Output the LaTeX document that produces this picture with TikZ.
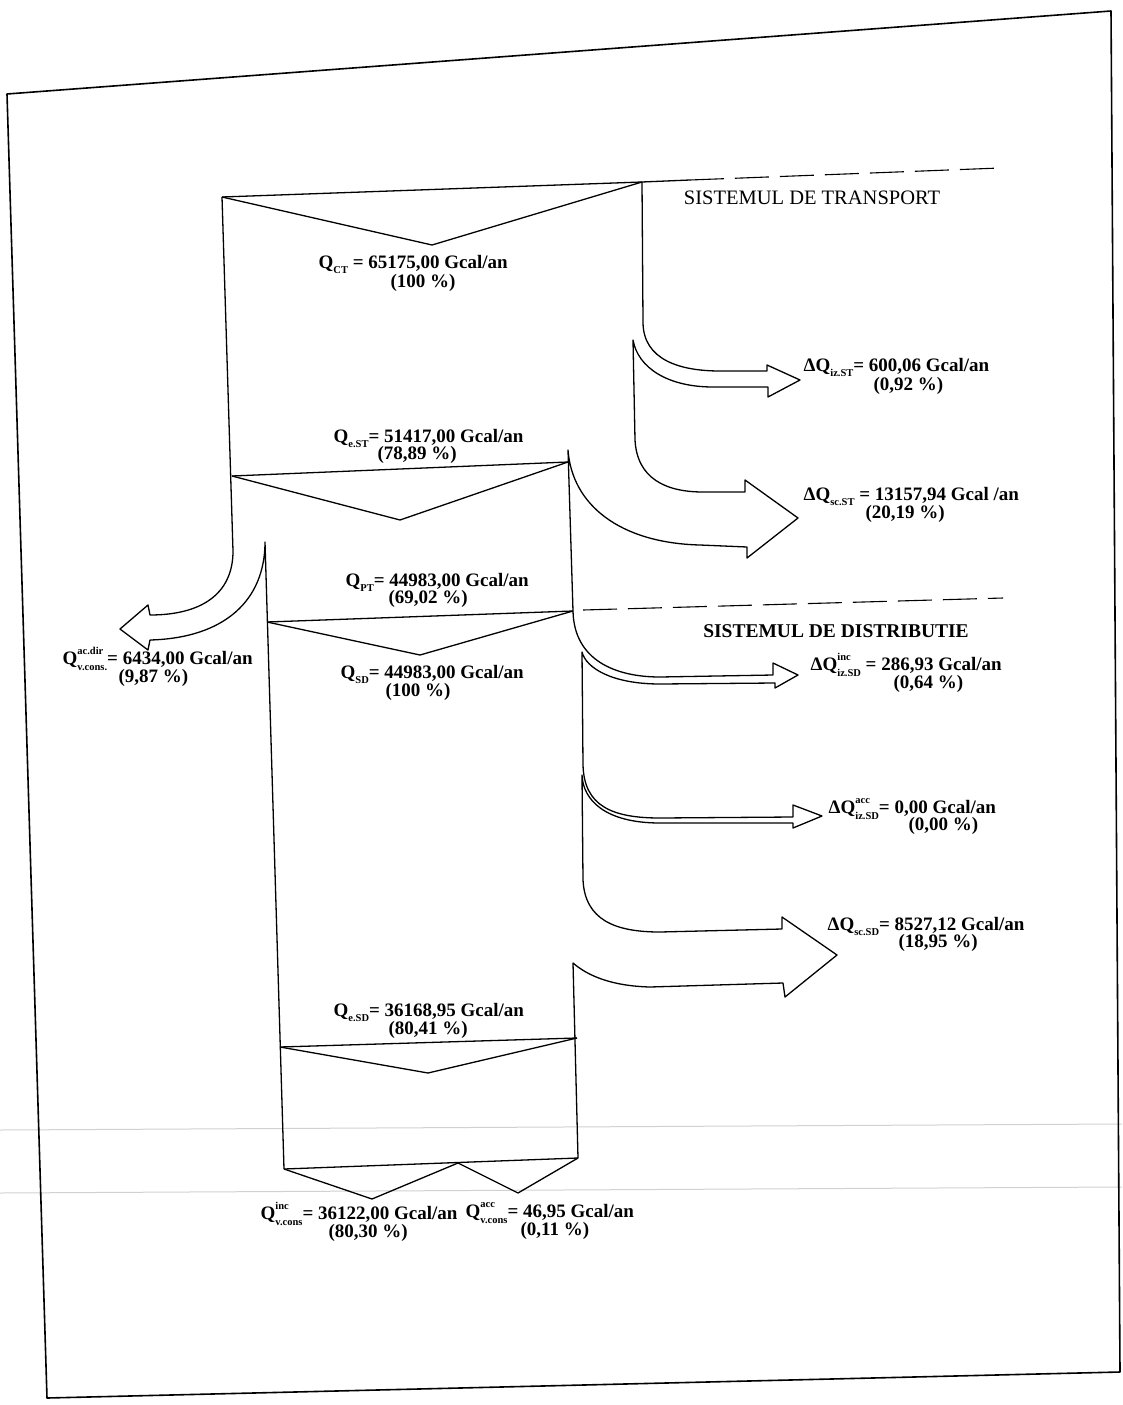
\documentclass[tikz,border=0pt]{standalone}
\usepackage{fontspec}
\setmainfont{Liberation Serif}
\newcommand\sm{\fontsize{10.5}{10.5}\selectfont}
\newcommand\sbx[1]{\raisebox{-5pt}{\sm #1}}
\newcommand\spsb[2]{\rlap{\raisebox{10pt}{\sm #1}}\raisebox{-6pt}{\sm #2}}
\begin{document}
\begin{tikzpicture}[x=1pt,y=-1pt,line width=1.3pt,line join=round,
  lbl/.style={inner sep=0pt,anchor=base west,font=\fontsize{19}{19}\selectfont\bfseries},
  ttl/.style={inner sep=0pt,anchor=base,font=\fontsize{19.5}{19.5}\selectfont\bfseries},
  sep/.style={line width=1.1pt,dash pattern=on 34pt off 11pt},
  scan/.style={line width=1pt,black!18}]
\useasboundingbox (0,0) rectangle (1122,1405);
\fill[white] (0,0) rectangle (1122,1405);
% scan artefacts
\draw[scan] (0,1130) -- (1122,1124);
\draw[scan] (0,1193) -- (1122,1187);
% page frame
\draw[line width=1.6pt] (7,94) -- (1111,11) -- (1120,1372) -- (47,1398) -- cycle;

% ---- transport system ----
\draw (222,197) -- (642,182) -- (690,180);
\draw[sep] (690,180) -- (1000,168);
\draw (222,197) -- (432,245) -- (642,182);
% left wall and left arrow
\draw (222,197) -- (233,551) .. controls (233,595) and (200,615) .. (150,615)
  -- (148,605) -- (120,629) -- (148,650) -- (150,640)
  .. controls (225,638) and (265,600) .. (265,542) -- (284,1169);
% right wall, arrows 1 and 2
\draw (642,182) -- (643,322) .. controls (643,360) and (680,371) .. (720,371)
  -- (767,371) -- (767,365) -- (800,380) -- (768,397) -- (768,387) -- (713,387)
  .. controls (668,387) and (638,368) .. (633,340) -- (635,440)
  .. controls (637,478) and (665,492) .. (703,492) -- (745,492) -- (745,480)
  -- (798,518) -- (747,558) -- (747,547) -- (700,545)
  .. controls (620,543) and (572,505) .. (568,450) -- (573,611);
\draw (232,476) -- (568,462);
\draw (232,476) -- (400,520) -- (568,462);

% ---- distribution system ----
\draw (267,622) -- (573,611);
\draw[sep] (583,610) -- (1003,598);
\draw (267,622) -- (420,655) -- (573,611);
% right wall, arrows 3, 4, 5
\draw (573,611) .. controls (574,660) and (615,677) .. (660,677) -- (773,675)
  -- (773,663) -- (798,675) -- (775,688) -- (775,683) -- (660,684)
  .. controls (612,684) and (586,668) .. (582,652) -- (583,765)
  .. controls (584,806) and (612,818) .. (660,818) -- (793,817) -- (793,805)
  -- (822,816) -- (793,828) -- (793,823) -- (660,823)
  .. controls (605,823) and (583,800) .. (582,775) -- (583,880)
  .. controls (585,920) and (615,932) .. (660,932) -- (782,929) -- (782,917)
  -- (837,955) -- (785,997) -- (783,983) -- (650,987)
  .. controls (612,986) and (588,976) .. (573,963) -- (578,1158);
\draw (280,1047) -- (577,1038);
\draw (280,1047) -- (428,1073) -- (577,1038);
\draw (284,1169) -- (578,1158);
\draw (284,1169) -- (372,1199) -- (458,1163) -- (518,1193) -- (578,1158);

% ---- titles ----
\node[ttl,font=\fontsize{20.5}{20.5}\selectfont] (tst) at (812,204) {SISTEMUL DE TRANSPORT};
\node[ttl] (tsd) at (836,637) {SISTEMUL DE DISTRIBUTIE};

% ---- labels ----
\node[lbl] (qct) at (318,268) {Q\sbx{CT} = 65175,00 Gcal/an};
\node[lbl] (qctp) at (390,287) {(100 \%)};
\node[lbl] (d1) at (803,371) {ΔQ\sbx{iz.ST}= 600,06 Gcal/an};
\node[lbl] (d1p) at (873,390) {(0,92 \%)};
\node[lbl] (qest) at (333,442) {Q\sbx{e.ST}= 51417,00 Gcal/an};
\node[lbl] (qestp) at (377,459) {(78,89 \%)};
\node[lbl] (d2) at (803,500) {ΔQ\sbx{sc.ST} = 13157,94 Gcal /an};
\node[lbl] (d2p) at (865,518) {(20,19 \%)};
\node[lbl] (qpt) at (345,586) {Q\sbx{PT}= 44983,00 Gcal/an};
\node[lbl] (qptp) at (388,603) {(69,02 \%)};
\node[lbl] (qad) at (62,664) {Q\spsb{ac.dir}{v.cons.}= 6434,00 Gcal/an};
\node[lbl] (qadp) at (118,682) {(9,87 \%)};
\node[lbl] (qsd) at (340,678) {Q\sbx{SD}= 44983,00 Gcal/an};
\node[lbl] (qsdp) at (385,696) {(100 \%)};
\node[lbl] (d3) at (810,670) {ΔQ\spsb{inc}{iz.SD} = 286,93 Gcal/an};
\node[lbl] (d3p) at (893,688) {(0,64 \%)};
\node[lbl] (d4) at (828,813) {ΔQ\spsb{acc}{iz.SD}= 0,00 Gcal/an};
\node[lbl] (d4p) at (908,830) {(0,00 \%)};
\node[lbl] (d5) at (827,930) {ΔQ\sbx{sc.SD}= 8527,12 Gcal/an};
\node[lbl] (d5p) at (898,947) {(18,95 \%)};
\node[lbl] (qesd) at (333,1016) {Q\sbx{e.SD}= 36168,95 Gcal/an};
\node[lbl] (qesdp) at (388,1034) {(80,41 \%)};
\node[lbl] (qinc) at (260,1219) {Q\spsb{inc}{v.cons}= 36122,00 Gcal/an};
\node[lbl] (qincp) at (328,1237) {(80,30 \%)};
\node[lbl] (qacc) at (465,1217) {Q\spsb{acc}{v.cons}= 46,95 Gcal/an};
\node[lbl] (qaccp) at (520,1235) {(0,11 \%)};
\end{tikzpicture}
\end{document}
